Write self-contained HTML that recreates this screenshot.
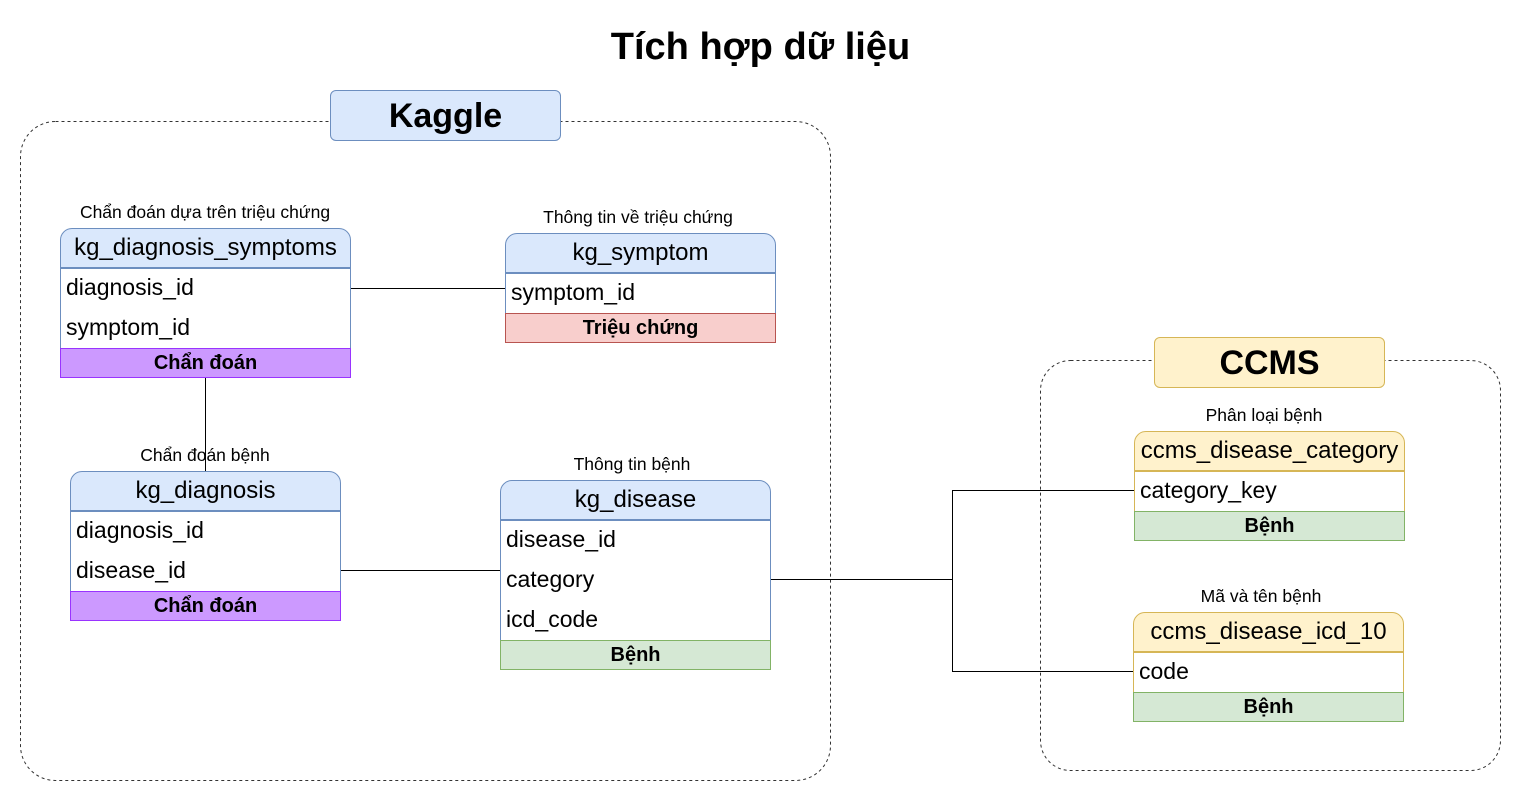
<!DOCTYPE html>
<html><head><meta charset="utf-8"><style>
body{margin:0;width:1521px;height:801px;background:#fff;position:relative;overflow:hidden;font-family:"Liberation Sans",Arial,sans-serif;color:#000}
.a{position:absolute;box-sizing:border-box}
.lbl{position:absolute;font-size:17.5px;text-align:center;white-space:nowrap;transform:translateX(-50%)}
.hdr{border:1px solid #6c8ebf;background:#dae8fc;border-radius:12px 12px 0 0;font-size:24px;text-align:center;line-height:38px;white-space:nowrap}
.row{border-left:1px solid #6c8ebf;border-right:1px solid #6c8ebf;background:#fff;font-size:23px;line-height:40px;padding-left:5px;white-space:nowrap}
.row span{position:relative;top:-2px}
.ft{font-size:20px;font-weight:bold;text-align:center;line-height:28px}
.y .hdr{border-color:#d6b656;background:#fff2cc}
.y .row{border-color:#d6b656}
</style></head><body>
<svg class="a" style="left:0;top:0" width="1521" height="801">
<rect x="20.5" y="121.5" width="810" height="659" rx="35" fill="none" stroke="#333" stroke-dasharray="3 3"/>
<rect x="1040.5" y="360.5" width="460" height="410" rx="30" fill="none" stroke="#333" stroke-dasharray="3 3"/>
<g stroke="#000" fill="none">
<path d="M350 288.5H505"/>
<path d="M205.5 378V471"/>
<path d="M340 570.5H500"/>
<path d="M770 579.5H952.5V490.5H1134M952.5 579V671.5H1133"/>
</g>
</svg>
<div class="a" style="left:0;top:26px;width:1521px;text-align:center;font-size:38px;font-weight:bold">Tích hợp dữ liệu</div>
<div class="a" style="left:330px;top:90px;width:231px;height:51px;background:#dae8fc;border:1px solid #6c8ebf;border-radius:6px;font-size:34px;font-weight:bold;text-align:center;line-height:51px">Kaggle</div>
<div class="a" style="left:1154px;top:337px;width:231px;height:51px;background:#fff2cc;border:1px solid #d6b656;border-radius:6px;font-size:34px;font-weight:bold;text-align:center;line-height:51px">CCMS</div>

<div class="lbl" style="left:205px;top:202px">Chẩn đoán dựa trên triệu chứng</div>
<div class="a" style="left:60px;top:228px;width:291px">
<div class="a hdr" style="left:0;top:0;width:291px;height:40px">kg_diagnosis_symptoms</div>
<div class="a row" style="left:0;top:40px;width:291px;height:80px;border-top:1px solid #6c8ebf"><span>diagnosis_id<br>symptom_id</span></div>
<div class="a ft" style="left:0;top:120px;width:291px;height:30px;background:#cc99ff;border:1px solid #9933ff">Chẩn đoán</div>
</div>

<div class="lbl" style="left:638px;top:207px">Thông tin về triệu chứng</div>
<div class="a" style="left:505px;top:233px">
<div class="a hdr" style="left:0;top:0;width:271px;height:40px">kg_symptom</div>
<div class="a row" style="left:0;top:40px;width:271px;height:40px;border-top:1px solid #6c8ebf"><span>symptom_id</span></div>
<div class="a ft" style="left:0;top:80px;width:271px;height:30px;background:#f8cecc;border:1px solid #b85450">Triệu chứng</div>
</div>

<div class="lbl" style="left:205px;top:445px">Chẩn đoán bệnh</div>
<div class="a" style="left:70px;top:471px">
<div class="a hdr" style="left:0;top:0;width:271px;height:40px">kg_diagnosis</div>
<div class="a row" style="left:0;top:40px;width:271px;height:80px;border-top:1px solid #6c8ebf"><span>diagnosis_id<br>disease_id</span></div>
<div class="a ft" style="left:0;top:120px;width:271px;height:30px;background:#cc99ff;border:1px solid #9933ff">Chẩn đoán</div>
</div>

<div class="lbl" style="left:632px;top:454px">Thông tin bệnh</div>
<div class="a" style="left:500px;top:480px">
<div class="a hdr" style="left:0;top:0;width:271px;height:40px">kg_disease</div>
<div class="a row" style="left:0;top:40px;width:271px;height:120px;border-top:1px solid #6c8ebf"><span>disease_id<br>category<br>icd_code</span></div>
<div class="a ft" style="left:0;top:160px;width:271px;height:30px;background:#d5e8d4;border:1px solid #82b366">Bệnh</div>
</div>

<div class="lbl" style="left:1264px;top:405px">Phân loại bệnh</div>
<div class="a y" style="left:1134px;top:431px">
<div class="a hdr" style="left:0;top:0;width:271px;height:40px">ccms_disease_category</div>
<div class="a row" style="left:0;top:40px;width:271px;height:40px;border-top:1px solid #d6b656"><span>category_key</span></div>
<div class="a ft" style="left:0;top:80px;width:271px;height:30px;background:#d5e8d4;border:1px solid #82b366">Bệnh</div>
</div>

<div class="lbl" style="left:1261px;top:586px">Mã và tên bệnh</div>
<div class="a y" style="left:1133px;top:612px">
<div class="a hdr" style="left:0;top:0;width:271px;height:40px">ccms_disease_icd_10</div>
<div class="a row" style="left:0;top:40px;width:271px;height:40px;border-top:1px solid #d6b656"><span>code</span></div>
<div class="a ft" style="left:0;top:80px;width:271px;height:30px;background:#d5e8d4;border:1px solid #82b366">Bệnh</div>
</div>
</body></html>
